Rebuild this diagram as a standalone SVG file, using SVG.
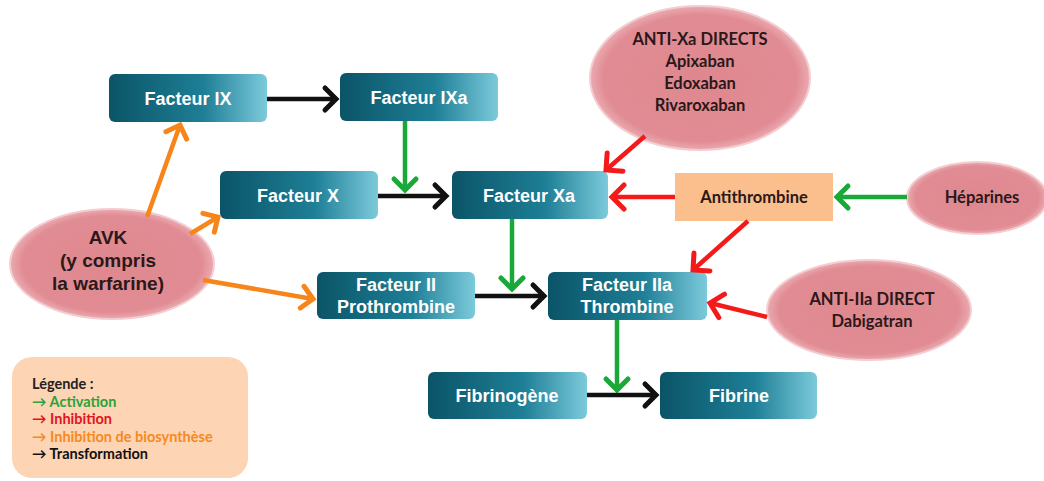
<svg xmlns="http://www.w3.org/2000/svg" width="1044" height="481" viewBox="0 0 1044 481">
<defs>
<linearGradient id="tg" x1="0" y1="0" x2="1" y2="0">
<stop offset="0" stop-color="#0b5467"/>
<stop offset="0.6" stop-color="#1e7f96"/>
<stop offset="1" stop-color="#7ccadb"/>
</linearGradient>
<radialGradient id="pg" cx="0.5" cy="0.5" r="0.5">
<stop offset="0" stop-color="#df878f"/>
<stop offset="0.88" stop-color="#e18c94"/>
<stop offset="1" stop-color="#ebaab0"/>
</radialGradient>
<marker id="mkK" viewBox="-15 -15 19 30" refX="0" refY="0" markerWidth="19" markerHeight="30" orient="auto" markerUnits="userSpaceOnUse"><polyline points="-11,-11 0,0 -11,11" fill="none" stroke="#111" stroke-width="5" stroke-linecap="round"/></marker>
<marker id="mkG" viewBox="-15 -15 19 30" refX="0" refY="0" markerWidth="19" markerHeight="30" orient="auto" markerUnits="userSpaceOnUse"><polyline points="-11,-11 0,0 -11,11" fill="none" stroke="#1aa938" stroke-width="5" stroke-linecap="round"/></marker>
<marker id="mkR" viewBox="-15 -15 19 30" refX="0" refY="0" markerWidth="19" markerHeight="30" orient="auto" markerUnits="userSpaceOnUse"><polyline points="-12,-12 0,0 -12,12" fill="none" stroke="#f51a1a" stroke-width="5" stroke-linecap="round"/></marker>
<marker id="mkO" viewBox="-15 -15 19 30" refX="0" refY="0" markerWidth="19" markerHeight="30" orient="auto" markerUnits="userSpaceOnUse"><polyline points="-11,-11 0,0 -11,11" fill="none" stroke="#f7861a" stroke-width="5" stroke-linecap="round"/></marker>
</defs>
<style>
.box{fill:url(#tg);}
.bt{font-family:"Liberation Sans",Arial,sans-serif;font-weight:bold;font-size:18px;fill:#ffffff;text-anchor:middle;}
.ell{fill:url(#pg);stroke:#f3cdd0;stroke-width:2;}
.et{font-family:"Lato","Liberation Sans",sans-serif;font-weight:bold;font-size:16.5px;fill:#2b1818;text-anchor:middle;}
.at{font-family:"Liberation Sans",Arial,sans-serif;font-weight:bold;font-size:19px;fill:#2b1818;text-anchor:middle;}
.c{fill:none;stroke-width:4.5;}
.k{stroke:#111;marker-end:url(#mkK);}
.g{stroke:#1aa938;marker-end:url(#mkG);}
.r{stroke:#f51a1a;marker-end:url(#mkR);}
.o{stroke:#f7861a;marker-end:url(#mkO);}
.lg{font-family:"Lato","Liberation Sans",sans-serif;font-weight:bold;font-size:14.5px;}
</style>
<rect width="1044" height="481" fill="#ffffff"/>

<g id="facteur-ix"><rect class="box" x="109" y="74" width="158" height="48" rx="6"/><text class="bt" x="188" y="105">Facteur IX</text></g>
<g id="facteur-ixa"><rect class="box" x="340" y="73" width="158" height="48" rx="6"/><text class="bt" x="419" y="104">Facteur IXa</text></g>
<g id="facteur-x"><rect class="box" x="220" y="171" width="158" height="48" rx="6"/><text class="bt" x="298" y="202">Facteur X</text></g>
<g id="facteur-xa"><rect class="box" x="452" y="171" width="156" height="48" rx="6"/><text class="bt" x="529" y="202">Facteur Xa</text></g>
<g id="antithrombine"><rect x="675" y="173" width="158" height="48" fill="#fbbe8d"/><text class="et" x="754" y="203">Antithrombine</text></g>
<g id="heparines"><ellipse class="ell" cx="977" cy="198" rx="70" ry="36"/><text class="et" x="982" y="203">Héparines</text></g>
<g id="anti-xa"><ellipse class="ell" cx="700" cy="78" rx="110" ry="72"/>
<text class="et" x="700" y="45">ANTI-Xa DIRECTS</text><text class="et" x="700" y="67">Apixaban</text><text class="et" x="700" y="89">Edoxaban</text><text class="et" x="700" y="111">Rivaroxaban</text></g>
<g id="avk"><ellipse class="ell" cx="112" cy="264" rx="102" ry="55"/>
<text class="at" x="108" y="244">AVK</text><text class="at" x="108" y="267">(y compris</text><text class="at" x="108" y="290">la warfarine)</text></g>
<g id="facteur-ii"><rect class="box" x="317" y="272" width="158" height="47" rx="6"/><text class="bt" x="396" y="291">Facteur II</text><text class="bt" x="396" y="313">Prothrombine</text></g>
<g id="facteur-iia"><rect class="box" x="548" y="272" width="159" height="48" rx="6"/><text class="bt" x="627" y="291">Facteur IIa</text><text class="bt" x="627" y="313">Thrombine</text></g>
<g id="anti-iia"><ellipse class="ell" cx="869" cy="310" rx="102" ry="50"/>
<text class="et" x="872" y="305">ANTI-IIa DIRECT</text><text class="et" x="872" y="327">Dabigatran</text></g>
<g id="fibrinogene"><rect class="box" x="428" y="372" width="159" height="47" rx="6"/><text class="bt" x="507" y="402">Fibrinogène</text></g>
<g id="fibrine"><rect class="box" x="660" y="372" width="157" height="47" rx="6"/><text class="bt" x="739" y="402">Fibrine</text></g>

<g id="legend"><rect x="12" y="357" width="236" height="121" rx="20" fill="#fdd4b4"/>
<text class="lg" x="32" y="389" fill="#222">Légende :</text>
<text class="lg" x="32" y="407" fill="#2aa33c">→ Activation</text>
<text class="lg" x="32" y="424" fill="#e3141c">→ Inhibition</text>
<text class="lg" x="32" y="442" fill="#f58a1f">→ Inhibition de biosynthèse</text>
<text class="lg" x="32" y="459" fill="#111">→ Transformation</text></g>

<g id="connectors">
<line class="c k" x1="267" y1="99" x2="336" y2="99"/>
<line class="c g" x1="405" y1="121" x2="405" y2="190"/>
<line class="c k" x1="378" y1="196" x2="446" y2="196"/>
<line class="c g" x1="512" y1="219" x2="512" y2="289"/>
<line class="c k" x1="475" y1="296" x2="544" y2="296"/>
<line class="c g" x1="617" y1="320" x2="617" y2="390"/>
<line class="c k" x1="587" y1="395" x2="656" y2="395"/>
<line class="c o" x1="147" y1="217" x2="180" y2="125"/>
<line class="c o" x1="190" y1="234" x2="218" y2="217"/>
<line class="c o" x1="203" y1="280" x2="313" y2="299"/>
<line class="c r" x1="645" y1="136" x2="606" y2="170"/>
<line class="c r" x1="675" y1="197" x2="612" y2="197"/>
<line class="c g" x1="907" y1="197" x2="837" y2="197"/>
<line class="c r" x1="748" y1="221" x2="693" y2="270"/>
<line class="c r" x1="767" y1="317" x2="710" y2="303"/>
</g>
</svg>
